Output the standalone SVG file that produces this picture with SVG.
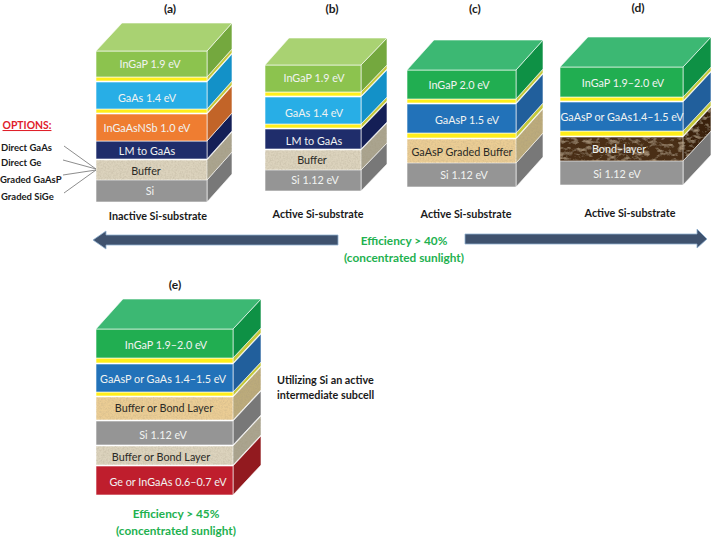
<svg xmlns="http://www.w3.org/2000/svg" width="711" height="537" viewBox="0 0 711 537">
<style>
text{font-family:Lato,"Liberation Sans",sans-serif;text-anchor:middle}
.l{font-size:10.8px;fill:#f1f3f1}
.d{fill:#2a2a26}
.b{font-size:10.8px;font-weight:700;fill:#1a1a1a}
.h{font-size:12px;font-weight:700;fill:#1a1a1a}
.s{font-size:9.5px;font-weight:700;fill:#1a1a1a;text-anchor:start}
.u{font-size:10.8px;font-weight:700;fill:#1a1a1a;text-anchor:start}
.g{font-size:11.8px;font-weight:700;fill:#22b14f}
rect,polygon{stroke:#fff;stroke-width:.8;stroke-opacity:.75}
.lg{fill:#8cc34e}.lgt{fill:#a9d272}.lgs{fill:#74a83e}
.dg{fill:#21ae51}.dgt{fill:#3cb873}.dgs{fill:#0e9145}
.sk{fill:#28aee6}.sks{fill:#1391c8}
.or{fill:#ef7d31}.ors{fill:#c26428}
.nv{fill:#1f2d6b}.nvs{fill:#141f56}
.gr{fill:#959595}.grs{fill:#787878}
.ye{fill:#ffee1a}.yes{fill:#c4c83a}
.bl{fill:#2272b9}.bls{fill:#215f9c}
.re{fill:#bf1e2d}.res{fill:#921a1f}
.bu{fill:#dcd3bd;filter:url(#lin)}.bus{fill:#aaa48f;filter:url(#lin)}
.ta{fill:#ebcd94;filter:url(#lin)}.tas{fill:#bcab7c;filter:url(#lin)}
.bo{fill:#4a2f17;filter:url(#soil)}.bos{fill:#3a2411;filter:url(#soil)}
.opt{stroke:#808080;stroke-width:.9;fill:none}
.ar{fill:#3f526e;stroke:#8fb0cf;stroke-width:.8;stroke-opacity:1}
</style>
<defs>
<filter id="lin" x="0" y="0" width="1" height="1"><feTurbulence type="fractalNoise" baseFrequency=".6" numOctaves="2" seed="3" result="n"/><feColorMatrix in="n" type="matrix" values="0 0 0 0 .35 0 0 0 0 .3 0 0 0 0 .2 .6 0 0 0 -.22" result="m"/><feComposite in="m" in2="SourceGraphic" operator="in" result="c"/><feMerge><feMergeNode in="SourceGraphic"/><feMergeNode in="c"/></feMerge></filter>
<filter id="soil" x="0" y="0" width="1" height="1"><feTurbulence type="fractalNoise" baseFrequency=".14 .25" numOctaves="3" seed="8" result="n"/><feColorMatrix in="n" type="matrix" values="0 0 0 0 .72 0 0 0 0 .55 0 0 0 0 .36 1.3 0 0 0 -.62" result="m"/><feComposite in="m" in2="SourceGraphic" operator="in" result="c"/><feMerge><feMergeNode in="SourceGraphic"/><feMergeNode in="c"/></feMerge></filter>
</defs>

<g id="connectors">
<line class="opt" x1="64" y1="146" x2="96" y2="169"/>
<line class="opt" x1="63" y1="160" x2="96" y2="169"/>
<line class="opt" x1="63" y1="175" x2="96" y2="170"/>
<line class="opt" x1="64" y1="193" x2="96" y2="170"/>
<polygon class="ar" points="338,235 106,235 106,231 93,240 106,249 106,245 338,245"/>
<polygon class="ar" points="465,234 697,234 697,229 707,239 697,248 697,244 465,244"/>
</g>

<g id="cell-a">
<text class="h" x="170" y="13">(a)</text>
<polygon class="grs" points="207,180 232,152 232,174 207,202"/><rect class="gr" x="96" y="180" width="111" height="22"/>
<polygon class="bus" points="207,160 232,132 232,152 207,180"/><rect class="bu" x="96" y="160" width="111" height="20"/>
<polygon class="nvs" points="207,141 232,113 232,131 207,159"/><rect class="nv" x="96" y="141" width="111" height="18"/>
<polygon class="ors" points="207,114 232,86 232,113 207,141"/><rect class="or" x="96" y="114" width="111" height="27"/>
<polygon class="yes" points="207,109 232,81 232,85 207,113"/><rect class="ye" x="96" y="109" width="111" height="4"/>
<polygon class="sks" points="207,82 232,54 232,81 207,109"/><rect class="sk" x="96" y="82" width="111" height="27"/>
<polygon class="yes" points="207,77 232,49 232,53 207,81"/><rect class="ye" x="96" y="77" width="111" height="4"/>
<polygon class="lgs" points="207,51 232,23 232,49 207,77"/><rect class="lg" x="96" y="51" width="111" height="26"/>
<polygon class="lgt" points="96,51 122,23 232,23 207,51"/>
<text class="l" x="150" y="68">InGaP 1.9 eV</text>
<text class="l" x="147" y="102">GaAs 1.4 eV</text>
<text class="l" x="147" y="132">InGaAsNSb 1.0 eV</text>
<text class="l" x="147" y="155">LM to GaAs</text>
<text class="l d" x="146" y="175">Buffer</text>
<text class="l" x="150" y="195">Si</text>
<text class="b" x="158" y="220">Inactive Si-substrate</text>
</g>

<g id="options">
<text x="27" y="129" style="font-size:10.4px;font-weight:700;fill:#e0202a;text-decoration:underline">OPTIONS:</text>
<text class="s" x="1" y="151">Direct GaAs</text>
<text class="s" x="1" y="166">Direct Ge</text>
<text class="s" x="0" y="183">Graded GaAsP</text>
<text class="s" x="1" y="200">Graded SiGe</text>
</g>

<g id="cell-b">
<text class="h" x="332" y="13">(b)</text>
<polygon class="grs" points="361,170 387,143 387,164 361,191"/><rect class="gr" x="265" y="170" width="96" height="21"/>
<polygon class="bus" points="361,150 387,123 387,143 361,170"/><rect class="bu" x="265" y="150" width="96" height="20"/>
<polygon class="nvs" points="361,129 387,102 387,122 361,149"/><rect class="nv" x="265" y="129" width="96" height="20"/>
<polygon class="yes" points="361,124 387,97 387,101 361,128"/><rect class="ye" x="265" y="124" width="96" height="4"/>
<polygon class="sks" points="361,97 387,70 387,97 361,124"/><rect class="sk" x="265" y="97" width="96" height="27"/>
<polygon class="yes" points="361,92 387,65 387,69 361,96"/><rect class="ye" x="265" y="92" width="96" height="4"/>
<polygon class="lgs" points="361,65 387,38 387,65 361,92"/><rect class="lg" x="265" y="65" width="96" height="27"/>
<polygon class="lgt" points="265,65 289,38 387,38 361,65"/>
<text class="l" x="314" y="82">InGaP 1.9 eV</text>
<text class="l" x="314" y="117">GaAs 1.4 eV</text>
<text class="l" x="314" y="145">LM to GaAs</text>
<text class="l d" x="312" y="164">Buffer</text>
<text class="l" x="315" y="184">Si 1.12 eV</text>
<text class="b" x="318" y="218">Active Si-substrate</text>
</g>

<g id="cell-c">
<text class="h" x="475" y="13">(c)</text>
<polygon class="grs" points="516,163 543,133 543,157 516,187"/><rect class="gr" x="407" y="163" width="109" height="24"/>
<polygon class="tas" points="516,139 543,109 543,133 516,163"/><rect class="ta" x="407" y="139" width="109" height="24"/>
<polygon class="yes" points="516,133 543,103 543,108 516,138"/><rect class="ye" x="407" y="133" width="109" height="5"/>
<polygon class="bls" points="516,104 543,74 543,103 516,133"/><rect class="bl" x="407" y="104" width="109" height="29"/>
<polygon class="yes" points="516,99 543,69 543,73 516,103"/><rect class="ye" x="407" y="99" width="109" height="4"/>
<polygon class="dgs" points="516,70 543,40 543,69 516,99"/><rect class="dg" x="407" y="70" width="109" height="29"/>
<polygon class="dgt" points="407,70 434,40 543,40 516,70"/>
<text class="l" x="459" y="89">InGaP 2.0 eV</text>
<text class="l" x="467" y="124">GaAsP 1.5 eV</text>
<text class="l d" x="462" y="156">GaAsP Graded Buffer</text>
<text class="l" x="464" y="179">Si 1.12 eV</text>
<text class="b" x="466" y="218">Active Si-substrate</text>
</g>

<g id="cell-d">
<text class="h" x="638" y="12">(d)</text>
<polygon class="grs" points="683,161 711,131 711,155 683,185"/><rect class="gr" x="560" y="161" width="123" height="24"/>
<polygon class="bos" points="683,137 711,107 711,131 683,161"/><rect class="bo" x="560" y="137" width="123" height="24"/>
<polygon class="yes" points="683,131 711,101 711,106 683,136"/><rect class="ye" x="560" y="131" width="123" height="5"/>
<polygon class="bls" points="683,102 711,72 711,101 683,131"/><rect class="bl" x="560" y="102" width="123" height="29"/>
<polygon class="yes" points="683,97 711,67 711,71 683,101"/><rect class="ye" x="560" y="97" width="123" height="4"/>
<polygon class="dgs" points="683,67 711,37 711,67 683,97"/><rect class="dg" x="560" y="67" width="123" height="30"/>
<polygon class="dgt" points="560,67 588,37 711,37 683,67"/>
<text class="l" x="623" y="87">InGaP 1.9–2.0 eV</text>
<text class="l" x="622" y="121">GaAsP or GaAs1.4–1.5 eV</text>
<text class="l" x="619" y="153">Bond–layer</text>
<text class="l" x="617" y="178">Si 1.12 eV</text>
<text class="b" x="630" y="217">Active Si-substrate</text>
</g>

<g id="efficiency-top">
<text class="g" x="404" y="245">Efficiency &gt; 40%</text>
<text class="g" x="404" y="262">(concentrated sunlight)</text>
</g>

<g id="cell-e">
<text class="h" x="175" y="289">(e)</text>
<polygon class="res" points="233,466 261,436 261,465 233,495"/><rect class="re" x="96" y="466" width="137" height="29"/>
<polygon class="bus" points="233,446 261,416 261,435 233,465"/><rect class="bu" x="96" y="446" width="137" height="19"/>
<polygon class="grs" points="233,421 261,391 261,415 233,445"/><rect class="gr" x="96" y="421" width="137" height="24"/>
<polygon class="tas" points="233,397 261,367 261,390 233,420"/><rect class="ta" x="96" y="397" width="137" height="23"/>
<polygon class="yes" points="233,392 261,362 261,366 233,396"/><rect class="ye" x="96" y="392" width="137" height="4"/>
<polygon class="bls" points="233,364 261,334 261,362 233,392"/><rect class="bl" x="96" y="364" width="137" height="28"/>
<polygon class="yes" points="233,358 261,328 261,333 233,363"/><rect class="ye" x="96" y="358" width="137" height="5"/>
<polygon class="dgs" points="233,329 261,299 261,328 233,358"/><rect class="dg" x="96" y="329" width="137" height="29"/>
<polygon class="dgt" points="96,329 123,299 261,299 233,329"/>
<text class="l" x="166" y="349">InGaP 1.9–2.0 eV</text>
<text class="l" x="163" y="383">GaAsP or GaAs 1.4–1.5 eV</text>
<text class="l d" x="164" y="412">Buffer or Bond Layer</text>
<text class="l" x="163" y="439">Si 1.12 eV</text>
<text class="l d" x="161" y="461">Buffer or Bond Layer</text>
<text class="l" x="168" y="486">Ge or InGaAs 0.6–0.7 eV</text>
<text class="u" x="277" y="384">Utilizing Si an active</text>
<text class="u" x="277" y="399">intermediate subcell</text>
<text class="g" x="176" y="518">Efficiency &gt; 45%</text>
<text class="g" x="176" y="535">(concentrated sunlight)</text>
</g>
</svg>
